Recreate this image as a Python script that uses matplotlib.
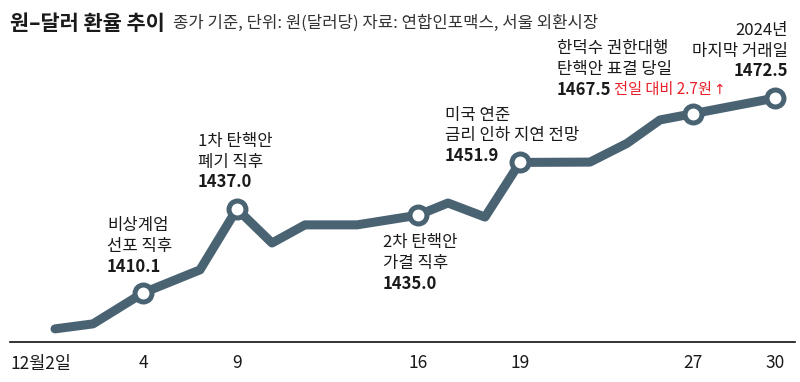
import numpy as np
import matplotlib
matplotlib.use('Agg')
from matplotlib import pyplot as plt
from matplotlib.transforms import ScaledTranslation

# won-dollar closing rate, December 2024
xpos = [55, 93, 143, 200, 237, 272, 305, 357, 418, 448, 485, 520, 590, 627, 660, 693, 775]
rates = [1398.6, 1400.2, 1410.1, 1417.5, 1437.0, 1426.1, 1431.9, 1431.9, 1435.0,
         1438.9, 1434.4, 1451.9, 1452.0, 1458.0, 1465.5, 1467.5, 1472.5]

tick_idx = [0, 2, 4, 8, 11, 15, 16]
tick_labels = ['12월2일', '4', '9', '16', '19', '27', '30']

# highlighted points and their notes
hl_idx = [2, 4, 8, 11, 15, 16]
hl_notes = ['비상계엄\n선포 직후', '1차 탄핵안\n폐기 직후', '2차 탄핵안\n가결 직후',
            '미국 연준\n금리 인하 지연 전망', '한덕수 권한대행\n탄핵안 표결 당일', '2024년\n마지막 거래일']
# offsets (pixels): note dx, note dy, number dy, alignment
hl_offsets = [(-36, 57, 26, 'left'), (-39, 57, 27, 'left'), (-35, -38, -69, 'left'),
              (-75, 37, 6, 'left'), (-136, 55, 24, 'left'), (13, 57, 27, 'right')]

plt.rcParams['font.family'] = ['Noto Sans CJK KR', 'DejaVu Sans']
line_col = '#4a6373'
txt_col = '#1a1a1a'
red = '#e8202a'

fig = plt.figure(figsize=(8, 3.82), dpi=100)
ax = fig.add_axes([10/800, 40/382, 785/800, 342/382])
ax.set_xlim(10, 795)
ax.set_ylim(1394.4, 1503.9)

ax.plot(xpos, rates, color=line_col, lw=6.5, solid_capstyle='round',
        solid_joinstyle='round', zorder=2)
ax.plot([xpos[i] for i in hl_idx], [rates[i] for i in hl_idx], 'o', ms=12.2,
        mfc='white', mec=line_col, mew=3.6, zorder=3)

for i, note, (dx, dy, ndy, ha) in zip(hl_idx, hl_notes, hl_offsets):
    p = (xpos[i], rates[i])
    ax.annotate(note, p, xytext=(dx, dy), textcoords='offset pixels', ha=ha,
                va='center', fontsize=12, color=txt_col, linespacing=1.28)
    ax.annotate(f'{rates[i]:.1f}', p, xytext=(dx, ndy), textcoords='offset pixels',
                ha=ha, va='center', fontsize=12, fontweight='bold', color=txt_col)

red_txt = ax.annotate('전일 대비 2.7원', (xpos[15], rates[15]), xytext=(-79, 24),
                      textcoords='offset pixels', ha='left', va='center', fontsize=11,
                      color=red)
ax.annotate('↑', (1, 0.5), xycoords=red_txt, xytext=(1, 0), textcoords='offset pixels',
            ha='left', va='center', fontsize=10, color=red, family='DejaVu Sans')

ax.set_xticks([xpos[i] for i in tick_idx], tick_labels)
ax.tick_params(axis='x', length=0, pad=9, labelsize=12.5, labelcolor=txt_col)
ax.set_yticks([])
for s in ['top', 'left', 'right']:
    ax.spines[s].set_visible(False)
ax.spines['bottom'].set_linewidth(1.2)
ax.spines['bottom'].set_color('#111111')
lab0 = ax.get_xticklabels()[0]
lab0.set_transform(lab0.get_transform() + ScaledTranslation(-0.14, 0, fig.dpi_scale_trans))

fig.text(10/800, 1 - 23/382, '원–달러 환율 추이', fontsize=15, fontweight='bold',
         color=txt_col, va='center')
fig.text(173/800, 1 - 23/382, '종가 기준, 단위: 원(달러당) 자료: 연합인포맥스, 서울 외환시장',
         fontsize=12, color='#333333', va='center')

fig.savefig('out.png', dpi=100)
